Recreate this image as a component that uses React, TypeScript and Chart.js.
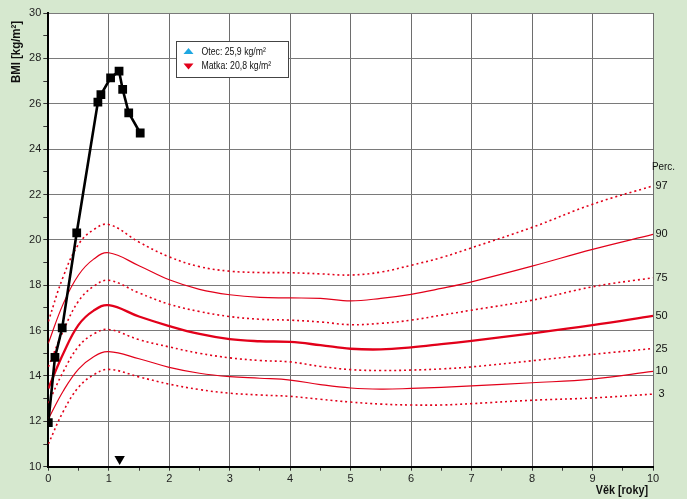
import React, { useEffect, useRef } from 'react';
import { Chart, registerables } from 'chart.js';

Chart.register(...registerables);

// Percentile reference curves (age in years → BMI)
const ages = [0, 0.25, 0.5, 0.75, 1, 1.5, 2, 2.5, 3, 3.5, 4, 4.5, 5, 5.5, 6, 6.5, 7, 8, 9, 10];
const p97 = [16.4, 18.4, 19.8, 20.45, 20.68, 19.9, 19.25, 18.82, 18.62, 18.56, 18.55, 18.5, 18.45, 18.58, 18.88, 19.22, 19.65, 20.55, 21.57, 22.38];
const p90 = [15.44, 17.2, 18.45, 19.15, 19.43, 18.86, 18.24, 17.82, 17.58, 17.46, 17.44, 17.42, 17.31, 17.42, 17.6, 17.86, 18.15, 18.84, 19.58, 20.24];
const p75 = [14.4, 16.0, 17.3, 17.95, 18.22, 17.66, 17.16, 16.84, 16.62, 16.5, 16.46, 16.38, 16.26, 16.32, 16.46, 16.68, 16.9, 17.34, 17.93, 18.33];
const p50 = [13.45, 15.0, 16.25, 16.88, 17.12, 16.62, 16.2, 15.85, 15.62, 15.53, 15.5, 15.36, 15.2, 15.17, 15.26, 15.4, 15.55, 15.88, 16.24, 16.65];
const p25 = [12.8, 14.2, 15.3, 15.85, 16.05, 15.6, 15.28, 15.0, 14.8, 14.68, 14.62, 14.42, 14.28, 14.24, 14.26, 14.31, 14.4, 14.67, 14.95, 15.21];
const p10 = [12.1, 13.35, 14.3, 14.85, 15.07, 14.76, 14.38, 14.12, 13.97, 13.9, 13.82, 13.62, 13.47, 13.42, 13.45, 13.5, 13.56, 13.7, 13.86, 14.2];
const p3 = [11.0, 12.45, 13.5, 14.05, 14.29, 13.96, 13.64, 13.4, 13.24, 13.16, 13.1, 12.97, 12.85, 12.76, 12.72, 12.72, 12.78, 12.93, 13.03, 13.2];

const percentileNames = ['97', '90', '75', '50', '25', '10', '3'];
const percentileSeries = [p97, p90, p75, p50, p25, p10, p3];
const percentileStyles = ['dot', 'thin', 'dot', 'thick', 'dot', 'thin', 'dot'];

// Patient measurements
const patientAges = [0, 0.11, 0.23, 0.47, 0.82, 0.87, 1.03, 1.17, 1.23, 1.33, 1.52];
const patientBmi = [11.94, 14.82, 16.12, 20.31, 26.07, 26.4, 27.14, 27.44, 26.63, 25.6, 24.71];

// Current age marker
const currentAge = [1.18];
const currentMarkerY = [10.34];

// Parents legend
const parentLabels = ['Otec: 25,9 kg/m²', 'Matka: 20,8 kg/m²'];
const parentColors = ['#1ea7e1', '#e2001a'];

const xTitle = 'Věk [roky]';
const yTitle = 'BMI [kg/m²]';
const percTitle = 'Perc.';

const RED = '#e2001a';
const BG = '#d6e8cf';
const FONT = "'Liberation Sans', Arial, sans-serif";

export default function App() {
  const ref = useRef<HTMLCanvasElement | null>(null);

  useEffect(() => {
    document.body.style.margin = '0';
    document.body.style.background = BG;
    const canvas = ref.current;
    if (!canvas) return;

    const percentileDatasets = percentileSeries.map((series, i) => {
      const style = percentileStyles[i];
      return {
        label: 'P' + percentileNames[i],
        data: ages.map((a, j) => ({ x: a, y: series[j] })),
        borderColor: RED,
        borderWidth: style === 'thick' ? 2.3 : style === 'thin' ? 1.2 : 1.6,
        borderDash: style === 'dot' ? [2, 3] : [],
        pointRadius: 0,
        tension: 0.4,
        fill: false,
        order: 2,
      };
    });

    const decorations = {
      id: 'decorations',
      beforeDraw(chart: any) {
        const { ctx, chartArea } = chart;
        ctx.save();
        ctx.fillStyle = BG;
        ctx.fillRect(0, 0, chart.width, chart.height);
        ctx.fillStyle = '#ffffff';
        ctx.fillRect(chartArea.left, chartArea.top, chartArea.right - chartArea.left, chartArea.bottom - chartArea.top);
        ctx.restore();
      },
      afterDraw(chart: any) {
        const { ctx, chartArea, scales } = chart;
        const ys = scales.y;
        ctx.save();
        ctx.fillStyle = '#111';
        // axis titles
        ctx.font = `bold 12px ${FONT}`;
        ctx.textAlign = 'center';
        ctx.textBaseline = 'middle';
        ctx.save();
        ctx.translate(17, 52);
        ctx.rotate(-Math.PI / 2);
        ctx.scale(0.95, 1);
        ctx.fillText(yTitle, 0, 0);
        ctx.restore();
        ctx.save();
        ctx.translate(chartArea.right - 5, 491);
        ctx.scale(0.9, 1);
        ctx.textAlign = 'right';
        ctx.fillText(xTitle, 0, 0);
        ctx.restore();

        // percentile labels
        ctx.font = `11px ${FONT}`;
        ctx.textAlign = 'center';
        const lx = chartArea.right + 8.5;
        const topY = ys.getPixelForValue(p97[p97.length - 1]);
        ctx.save();
        ctx.translate(lx + 2, topY - 19);
        ctx.scale(0.9, 1);
        ctx.fillText(percTitle, 0, 0);
        ctx.restore();
        percentileSeries.forEach((s, i) => {
          ctx.fillText(percentileNames[i], lx, ys.getPixelForValue(s[s.length - 1]));
        });

        // parents legend box
        const bx = 176.5, by = 41.5, bw = 112, bh = 36;
        ctx.fillStyle = '#ffffff';
        ctx.fillRect(bx, by, bw, bh);
        ctx.strokeStyle = '#444';
        ctx.lineWidth = 1;
        ctx.strokeRect(bx, by, bw, bh);
        const rows = [51.5, 66];
        parentLabels.forEach((lab, i) => {
          const cy = rows[i];
          const cx = 188.5;
          ctx.fillStyle = parentColors[i];
          ctx.beginPath();
          if (i === 0) {
            ctx.moveTo(cx, cy - 3.5);
            ctx.lineTo(cx + 5, cy + 2.5);
            ctx.lineTo(cx - 5, cy + 2.5);
          } else {
            ctx.moveTo(cx - 5, cy - 2.5);
            ctx.lineTo(cx + 5, cy - 2.5);
            ctx.lineTo(cx, cy + 3.5);
          }
          ctx.closePath();
          ctx.fill();
          ctx.fillStyle = '#111';
          ctx.font = `10.5px ${FONT}`;
          ctx.textAlign = 'left';
          ctx.textBaseline = 'middle';
          ctx.save();
          ctx.translate(201.5, cy + 0.5);
          ctx.scale(0.83, 1);
          ctx.fillText(lab, 0, 0);
          ctx.restore();
        });
        ctx.restore();
      },
    };

    const chart = new Chart(canvas, {
      type: 'line',
      data: {
        datasets: [
          {
            label: 'patient',
            data: patientAges.map((a, i) => ({ x: a, y: patientBmi[i] })),
            borderColor: '#000',
            borderWidth: 2.6,
            pointStyle: 'rect',
            pointRadius: 6.2,
            pointBackgroundColor: '#000',
            pointBorderColor: '#000',
            pointBorderWidth: 0,
            tension: 0,
            order: 0,
          } as any,
          {
            label: 'age',
            data: currentAge.map((a, i) => ({ x: a, y: currentMarkerY[i] })),
            showLine: false,
            pointStyle: 'triangle',
            rotation: 180,
            pointRadius: 6,
            pointBackgroundColor: '#000',
            pointBorderColor: '#000',
            pointBorderWidth: 0,
            order: 1,
          } as any,
          ...(percentileDatasets as any[]),
        ],
      },
      options: {
        animation: false,
        responsive: false,
        maintainAspectRatio: false,
        devicePixelRatio: 1,
        layout: { padding: { left: 0, top: 13, right: 34, bottom: 0 } },
        plugins: {
          legend: { display: false },
          tooltip: { enabled: false },
          title: { display: false },
        },
        elements: { line: { borderCapStyle: 'butt' } },
        scales: {
          x: {
            type: 'linear',
            min: 0,
            max: 10,
            afterFit(scale: any) {
              scale.height = 32.3;
            },
            ticks: {
              stepSize: 0.5,
              autoSkip: false,
              maxRotation: 0,
              padding: 2,
              color: '#222',
              font: { family: FONT, size: 11 },
              callback: (v: any) => (Number.isInteger(Number(v)) ? String(v) : ''),
            },
            grid: {
              color: (c: any) => (c.tick && Number.isInteger(c.tick.value) ? '#6e6e6e' : 'rgba(0,0,0,0)'),
              tickColor: '#333',
              tickLength: 4,
              lineWidth: 1,
            },
            border: { color: '#000', width: 2 },
          },
          y: {
            type: 'linear',
            min: 10,
            max: 30,
            afterFit(scale: any) {
              scale.width = 48.3;
            },
            ticks: {
              stepSize: 1,
              autoSkip: false,
              padding: 2,
              color: '#222',
              font: { family: FONT, size: 11 },
              callback: (v: any) => (Number(v) % 2 === 0 ? String(v) : ''),
            },
            grid: {
              color: (c: any) => (c.tick && c.tick.value % 2 === 0 ? '#7a7a7a' : 'rgba(0,0,0,0)'),
              tickColor: '#333',
              tickLength: 5,
              lineWidth: 1,
            },
            border: { color: '#000', width: 2 },
          },
        },
      } as any,
      plugins: [decorations],
    });

    return () => chart.destroy();
  }, []);

  return (
    <div style={{ width: 687, height: 499, background: BG }}>
      <canvas ref={ref} width={687} height={499} style={{ display: 'block', width: 687, height: 499 }} />
    </div>
  );
}
